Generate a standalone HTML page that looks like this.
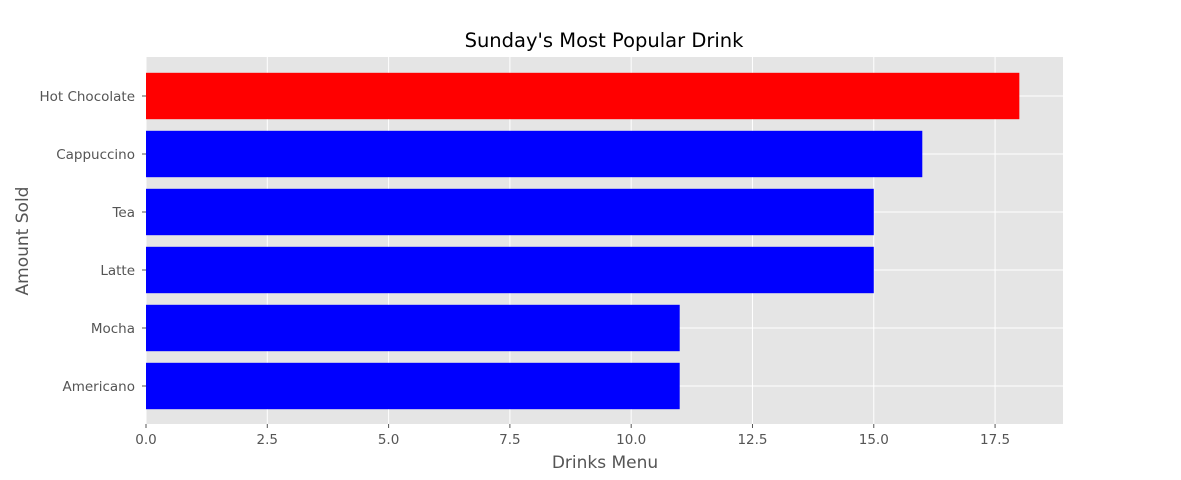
<!DOCTYPE html>
<html><head><meta charset="utf-8"><style>
body{margin:0;background:#fff;font-family:"Liberation Sans","DejaVu Sans",sans-serif;}
svg text{font-family:"DejaVu Sans","Liberation Sans",sans-serif;}
</style></head><body>
<svg id="chart" width="1181" height="475" xmlns="http://www.w3.org/2000/svg">
<rect x="146" y="57" width="917" height="367" fill="#e5e5e5"/>
<g id="grid"></g><g id="bars"></g><g id="ticks"></g>
<text x="604" y="47" text-anchor="middle" font-size="19.5" fill="#000">Sunday's Most Popular Drink</text>
<text x="605" y="468" text-anchor="middle" font-size="17" fill="#555">Drinks Menu</text>
<text transform="translate(28,241) rotate(-90)" text-anchor="middle" font-size="17" fill="#555">Amount Sold</text>
</svg>
<script>
const categories=["Americano","Mocha","Latte","Tea","Cappuccino","Hot Chocolate"];
const values=[11,11,15,15,16,18];
const barColors=["blue","blue","blue","blue","blue","red"];
const xTicks=[0,2.5,5,7.5,10,12.5,15,17.5];
const ns="http://www.w3.org/2000/svg";
const L=146,R=1063,T=57,B=424;
const xMax=Math.max(...values)*1.05;
const x=v=>L+v/xMax*(R-L);
const y=v=>386-58*v;
function mk(tag,a,p){const e=document.createElementNS(ns,tag);for(const k in a)e.setAttribute(k,a[k]);document.getElementById(p).appendChild(e);return e;}
xTicks.forEach(t=>{
 const g=mk("line",{x1:x(t),x2:x(t),y1:T,y2:B,stroke:"#fff","stroke-width":1},"grid");
 
 
 const tk=mk("line",{x1:x(t),x2:x(t),y1:B,y2:B+4,stroke:"#555"},"ticks");
 
 
 const l=mk("text",{x:x(t),y:B+20,"text-anchor":"middle","font-size":13.5,fill:"#555"},"ticks");
 l.textContent=t.toFixed(1);
 
 
});
categories.forEach((c,i)=>{
 const g=mk("line",{x1:L,x2:R,y1:y(i),y2:y(i),stroke:"#fff","stroke-width":1},"grid");
 
 
 const b=mk("rect",{x:x(0),y:y(i+0.4),width:x(values[i])-x(0),height:y(i-0.4)-y(i+0.4),fill:barColors[i]},"bars");
 
 
 const tk=mk("line",{x1:L-4,x2:L,y1:y(i),y2:y(i),stroke:"#555"},"ticks");
 
 
 const l=mk("text",{x:L-11,y:y(i)+5,"text-anchor":"end","font-size":13.5,fill:"#555"},"ticks");
 l.textContent=c;
 
 
});
</script>
</body></html>
